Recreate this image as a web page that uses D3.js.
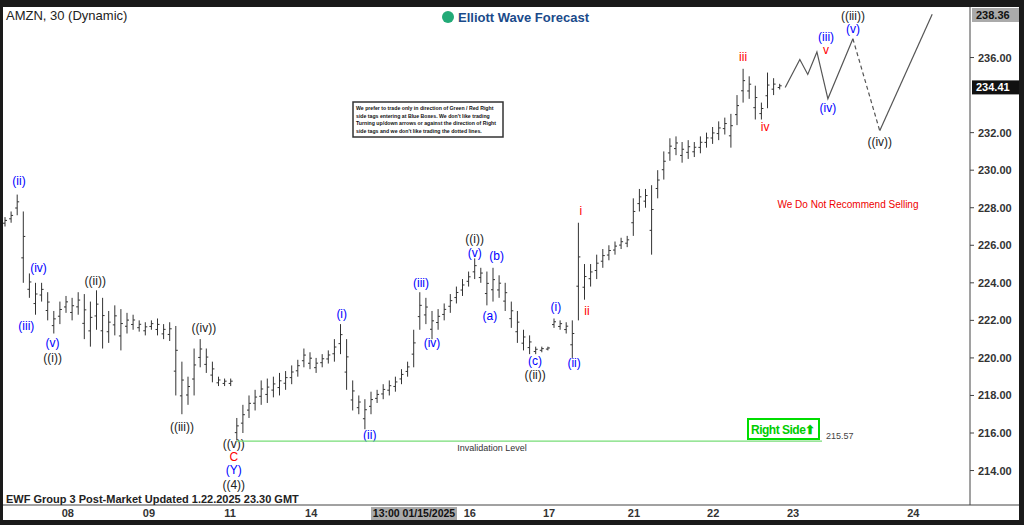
<!DOCTYPE html><html><head><meta charset="utf-8"><script src="https://cdn.jsdelivr.net/npm/d3@7"></script>
<style>body{margin:0;background:#fff}text{font-family:Arial,"Liberation Sans",sans-serif}</style></head><body><svg id="c" width="1024" height="525"></svg><script>
const highs=[227.5,227.8,228.7,227.8,224.5,224.0,224.0,223.5,222.5,223.0,223.3,223.2,223.5,223.4,223.0,223.6,223.2,222.5,222.8,222.6,222.4,222.3,222.0,221.9,222.0,222.1,221.8,221.9,221.7,219.8,219.0,220.5,221.0,220.5,219.8,219.0,218.9,218.9,216.8,217.5,218.0,218.3,218.8,218.9,219.0,219.2,219.3,219.6,219.9,220.5,220.3,220.0,220.2,220.4,221.0,221.8,221.0,218.8,218.0,217.8,218.2,218.3,218.6,218.8,219.0,219.4,219.8,221.5,223.5,223.2,222.5,222.6,222.9,223.4,223.8,224.2,224.6,225.3,224.8,224.6,224.8,224.4,224.0,223.0,222.5,221.5,221.2,220.6,220.6,220.6,222.1,222.0,221.9,222.0,227.2,225.0,225.0,225.5,225.8,226.0,226.2,226.4,226.5,228.5,229.0,229.0,229.2,230.0,231.0,231.7,231.8,231.5,231.6,231.5,231.8,232.0,232.3,232.6,232.8,233.0,234.0,235.4,235.0,234.5,233.6,235.2,234.9,234.6];
const lows=[227.0,227.2,227.6,224.0,223.2,222.3,223.0,222.0,221.3,221.8,222.4,222.0,222.3,221.0,220.6,221.5,220.5,220.8,221.2,220.4,221.3,221.5,221.4,221.2,221.5,221.2,221.0,220.9,218.0,217.0,217.5,218.0,219.5,219.2,218.7,218.5,218.5,218.5,215.6,216.0,216.8,217.2,217.5,217.6,217.9,218.0,218.3,218.6,219.0,219.5,219.4,219.2,219.5,219.7,219.8,220.2,218.3,217.2,217.0,216.2,217.0,217.6,217.8,218.0,218.2,218.6,219.0,219.5,221.5,221.8,221.0,221.5,222.0,222.4,222.9,223.3,223.8,224.2,224.0,222.8,223.0,223.2,222.5,221.6,220.8,220.4,220.2,220.2,220.3,220.4,221.6,221.5,221.3,220.0,222.0,223.1,223.8,224.2,224.8,225.2,225.5,225.8,225.9,226.5,227.8,228.0,225.5,228.5,229.5,230.5,230.8,230.4,230.6,230.7,230.9,231.2,231.4,231.6,231.9,231.2,232.4,233.6,233.8,232.7,232.7,233.3,234.0,234.3];
const proj=[[127.9,234.4],[130.3,235.9],[131.6,235.1],[133.1,236.3],[134.9,233.8],[139,237.0],[143.4,232.1]];
const projEnd=[[143.4,232.1],[152,238.3]];
const yTicks=[214,216,218,220,222,224,226,228,230,232,236];
const dayTicks=[[10.3,"08"],[23.6,"09"],[36.9,"11"],[50.2,"14"],[76.2,"16"],[89.2,"17"],[103.1,"21"],[116.1,"22"],[129.2,"23"],[148.9,"24"]];
const labels=[[2.3,229.2,"(ii)","#00f"],[5.5,224.6,"(iv)","#00f"],[3.5,221.5,"(iii)","#00f"],[7.8,220.6,"(v)","#00f"],[7.8,219.8,"((i))","#222"],[14.8,223.9,"((ii))","#222"],[29,216.1,"((iii))","#222"],[32.6,221.4,"((iv))","#222"],[37.5,215.2,"((v))","#222"],[37.5,214.5,"C","red"],[37.5,213.8,"(Y)","#00f"],[37.5,213.0,"((4))","#222"],[55.2,222.1,"(i)","#00f"],[59.8,215.7,"(ii)","#00f"],[68.2,223.8,"(iii)","#00f"],[70,220.6,"(iv)","#00f"],[77,226.1,"((i))","#222"],[77,225.4,"(v)","#00f"],[80.6,225.2,"(b)","#00f"],[79.5,222.0,"(a)","#00f"],[86.9,219.6,"(c)","#00f"],[86.9,218.9,"((ii))","#222"],[90.3,222.5,"(i)","#00f"],[93.3,219.5,"(ii)","#00f"],[94.4,227.6,"i","red"],[95.4,222.3,"ii","red"],[121,235.8,"iii","red"],[124.6,232.1,"iv","red"],[134.6,236.9,"(iii)","#00f"],[134.6,236.2,"v","red"],[134.9,233.1,"(iv)","#00f"],[139,238.0,"((iii))","#222"],[139,237.3,"(v)","#00f"],[143.4,231.3,"((iv))","#222"]];
const svg=d3.select("#c");
const x=d3.scaleLinear().domain([0,127]).range([5,779.7]);
const y=d3.scaleLinear().domain([216,238]).range([433,20]);
svg.append("rect").attr("width",1024).attr("height",525).attr("fill","#1a1a1a");
svg.append("rect").attr("x",3).attr("y",7).attr("width",1016).attr("height",513).attr("fill","#fff");
svg.append("line").attr("x1",970).attr("x2",970).attr("y1",7).attr("y2",505).attr("stroke","#444");
svg.append("line").attr("x1",3).attr("x2",1019).attr("y1",505).attr("y2",505).attr("stroke","#444");
yTicks.forEach(t=>{svg.append("line").attr("x1",970).attr("x2",974).attr("y1",y(t)).attr("y2",y(t)).attr("stroke","#444");
svg.append("text").attr("x",978).attr("y",y(t)+4).attr("font-size",11).attr("font-weight","bold").attr("fill","#333").text(t.toFixed(2));});
dayTicks.forEach(([i,l])=>{svg.append("text").attr("x",x(i)).attr("y",517).attr("text-anchor","middle").attr("font-size",11).attr("font-weight","bold").attr("fill","#333").text(l);});
svg.append("rect").attr("x",371).attr("y",507).attr("width",86).attr("height",13).attr("fill","#aaa");
svg.append("text").attr("x",414).attr("y",517).attr("text-anchor","middle").attr("font-size",10.5).attr("font-weight","bold").attr("fill","#111").text("13:00 01/15/2025");
const g=svg.append("g").attr("stroke","#333").attr("stroke-width",1);
highs.forEach((h,i)=>{const l=lows[i];const X=x(i);
g.append("line").attr("x1",X).attr("x2",X).attr("y1",y(h)).attr("y2",y(l));
g.append("line").attr("x1",X-2).attr("x2",X).attr("y1",y(l+(h-l)*0.35)).attr("y2",y(l+(h-l)*0.35));
g.append("line").attr("x1",X).attr("x2",X+2).attr("y1",y(l+(h-l)*0.65)).attr("y2",y(l+(h-l)*0.65));});
const ln=d3.line().x(d=>x(d[0])).y(d=>y(d[1]));
svg.append("path").attr("d",ln(proj.slice(0,6))).attr("fill","none").attr("stroke","#555").attr("stroke-width",1.2);
svg.append("path").attr("d",ln(proj.slice(5))).attr("fill","none").attr("stroke","#555").attr("stroke-width",1.2).attr("stroke-dasharray","4,3");
svg.append("path").attr("d",ln(projEnd)).attr("fill","none").attr("stroke","#555").attr("stroke-width",1.2);
labels.forEach(([i,p,t,c])=>svg.append("text").attr("x",x(i)).attr("y",y(p)).attr("text-anchor","middle").attr("font-size",12).attr("fill",c).text(t));
svg.append("line").attr("x1",x(38)).attr("x2",822).attr("y1",y(215.57)).attr("y2",y(215.57)).attr("stroke","#7d7").attr("stroke-width",1.2);
svg.append("text").attr("x",826).attr("y",y(215.57)-2).attr("font-size",9).attr("fill","#444").text("215.57");
svg.append("text").attr("x",492).attr("y",y(215.57)+10).attr("text-anchor","middle").attr("font-size",9).attr("fill","#333").text("Invalidation Level");
svg.append("rect").attr("x",748).attr("y",419).attr("width",71).attr("height",20).attr("fill","#fff").attr("stroke","#0d0").attr("stroke-width",2);
svg.append("text").attr("x",751).attr("y",434).attr("font-size",12).attr("font-weight","bold").attr("letter-spacing",-0.5).attr("fill","#0c0").text("Right Side⬆");
svg.append("text").attr("x",848).attr("y",208).attr("text-anchor","middle").attr("font-size",10).attr("fill","#e00").text("We Do Not Recommend Selling");
svg.append("text").attr("x",6).attr("y",20).attr("font-size",13).attr("fill","#222").text("AMZN, 30 (Dynamic)");
svg.append("text").attr("x",6).attr("y",503).attr("font-size",11).attr("font-weight","bold").attr("fill","#222").text("EWF Group 3 Post-Market Updated 1.22.2025 23.30 GMT");
svg.append("circle").attr("cx",448).attr("cy",17).attr("r",6).attr("fill","#2a7");
svg.append("text").attr("x",458).attr("y",22).attr("font-size",13).attr("font-weight","bold").attr("fill","#1a4a8a").text("Elliott Wave Forecast");
svg.append("rect").attr("x",353).attr("y",102).attr("width",150).attr("height",35).attr("fill","#fff").attr("stroke","#333").attr("stroke-width",1.5);
["We prefer to trade only in direction of Green / Red Right","side tags entering at Blue Boxes. We don't like trading","Turning up/down arrows or against the direction of Right","side tags and we don't like trading the dotted lines."].forEach((t,k)=>svg.append("text").attr("x",356).attr("y",110+k*7.5).attr("font-size",5.2).attr("font-weight","bold").attr("fill","#111").text(t));
svg.append("rect").attr("x",972).attr("y",8).attr("width",47).attr("height",14).attr("fill","#aaa");
svg.append("text").attr("x",976).attr("y",19).attr("font-size",11).attr("font-weight","bold").attr("fill","#111").text("238.36");
svg.append("rect").attr("x",972).attr("y",y(234.41)-7).attr("width",47).attr("height",14).attr("fill","#111");
svg.append("text").attr("x",976).attr("y",y(234.41)+4).attr("font-size",11).attr("font-weight","bold").attr("fill","#fff").text("234.41");
</script></body></html>
